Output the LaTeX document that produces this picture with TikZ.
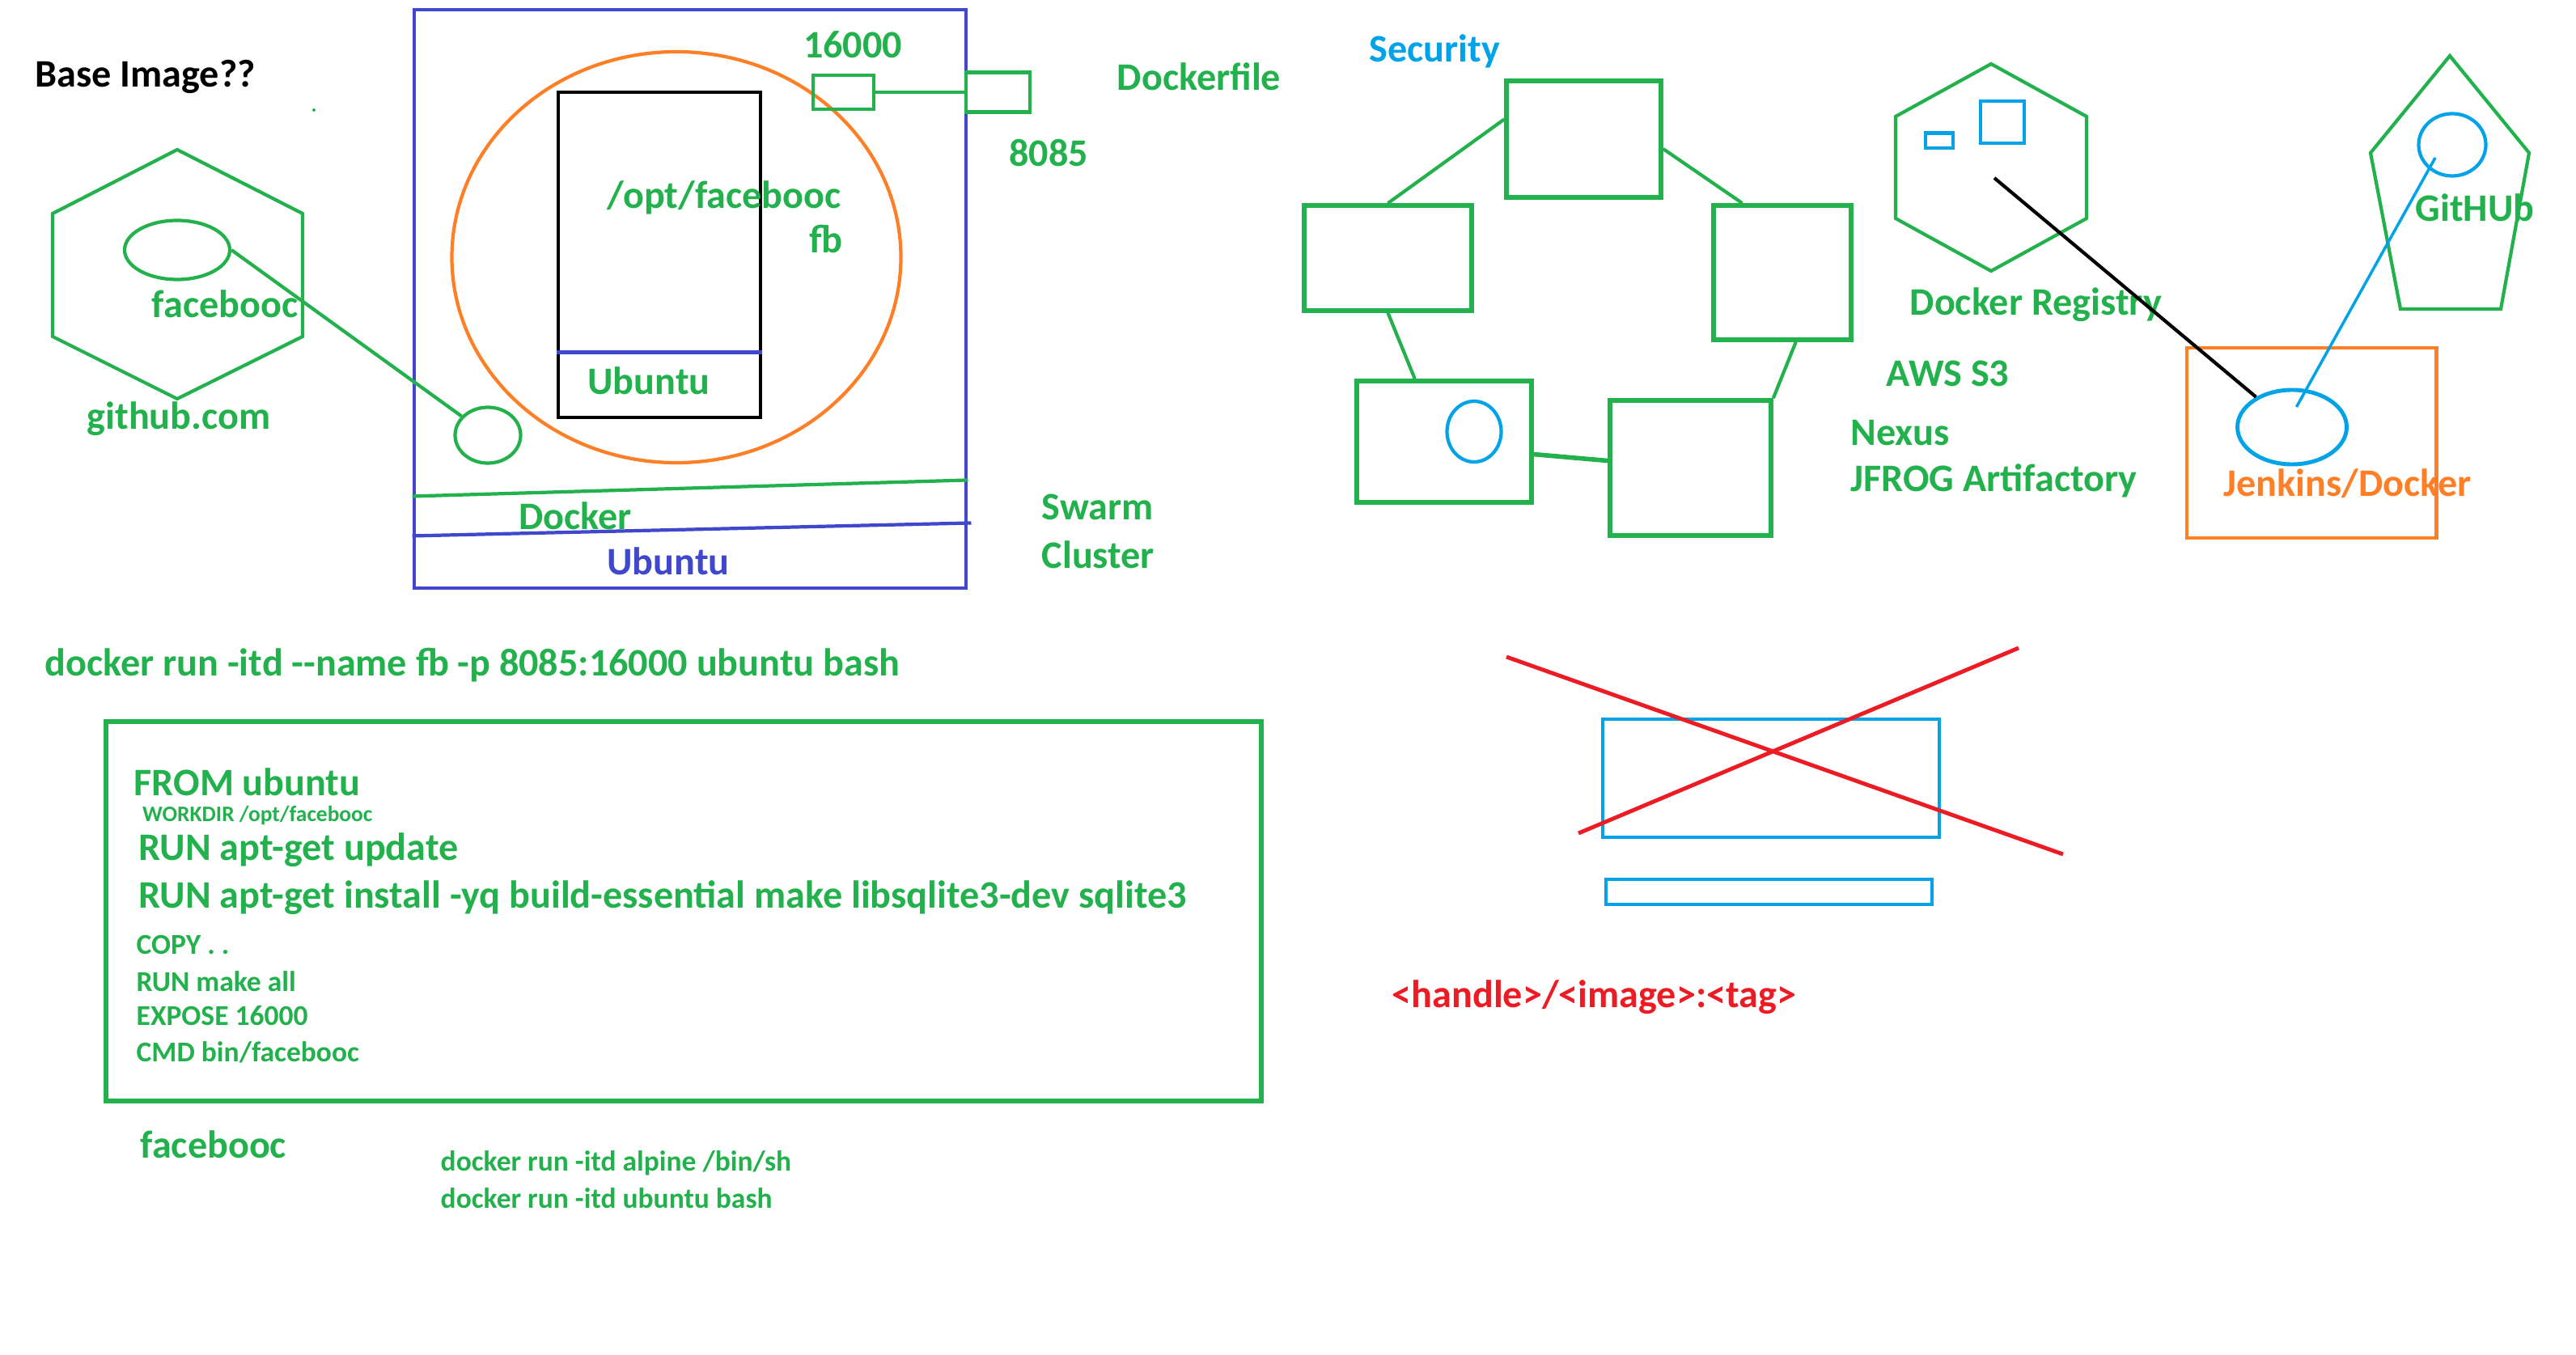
\documentclass[tikz,border=0pt]{standalone}
\usepackage{fontspec}
\setmainfont{Carlito}
\usepackage{xcolor}
\usepackage{tikz}
\usetikzlibrary{calc}
\usetikzlibrary{shapes}
\usetikzlibrary{positioning}
\usetikzlibrary{shapes.geometric}

\definecolor{pgreen}{HTML}{22B14C}
\definecolor{pblue}{HTML}{3F48CC}
\definecolor{porange}{HTML}{FF7F27}
\definecolor{plight}{HTML}{00A2E8}
\definecolor{pred}{HTML}{ED1C24}

\begin{document}
\begin{tikzpicture}[y=-1cm,
  txt/.style={inner sep=0, anchor=west, text=pgreen, font=\bfseries\fontsize{13.7}{16}\selectfont},
  smalltxt/.style={txt, font=\bfseries\fontsize{10.1}{12}\selectfont},
  tinytxt/.style={txt, font=\bfseries\fontsize{7.8}{9}\selectfont},
  box/.style={rectangle, draw=pgreen, line width=1.5pt, inner sep=0},
  oval/.style={ellipse, draw=pgreen, line width=1.2pt, inner sep=0},
  wire/.style={draw=pgreen, line width=1.2pt}]
\useasboundingbox (0,0) rectangle (31.84,16.75);

\node [txt, text=black] (base) at (0.43,0.95) {Base Image??};
\fill [pgreen] (3.88,1.36) circle (0.02);

\draw [wire] (2.19,1.85) -- (3.74,2.64) -- (3.74,4.16) -- (2.19,4.93) -- (0.65,4.16) -- (0.65,2.64) -- cycle;
\node [oval, minimum width=1.30cm, minimum height=0.73cm] (img) at (2.19,3.09) {};
\node [txt, anchor=center] (imgname) at (2.78,3.76) {facebooc};
\node [txt, anchor=center] (hub) at (2.21,5.18) {github.com};

\node [rectangle, draw=pblue, line width=1.4pt, minimum width=6.82cm, minimum height=7.15cm] (host) at (8.53,3.695) {};
\node [ellipse, draw=porange, line width=1.2pt, minimum width=5.55cm, minimum height=5.08cm] (cont) at (8.36,3.18) {};
\node [rectangle, draw=black, line width=1.4pt, minimum width=2.50cm, minimum height=4.02cm] (fs) at (8.15,3.15) {};
\draw [draw=pblue, line width=1.2pt] ($(fs.south west)+(0,-0.83)$) to ($(fs.south east)+(0,-0.83)$);
\node [txt, anchor=center] (fsos) at (8.02,4.71) {Ubuntu};
\node [txt, anchor=center] (dir) at (8.95,2.44) {/opt/facebooc};
\node [txt, anchor=center] (fb) at (10.21,2.96) {fb};
\node [oval, minimum width=0.81cm, minimum height=0.69cm] (run) at (6.03,5.38) {};
\draw [wire] (img.east) to (run);

\node [box, line width=1.2pt, minimum width=0.75cm, minimum height=0.42cm] (p1) at (10.425,1.14) {};
\node [box, line width=1.2pt, minimum width=0.79cm, minimum height=0.49cm] (p2) at (12.335,1.14) {};
\draw [wire] (p1.east) to (p2.west);
\node [txt, anchor=center] (p1name) at (10.54,0.55) {16000};
\node [txt, anchor=center] (p2name) at (12.96,1.89) {8085};
\node [txt, anchor=center] (dfname) at (14.82,0.95) {Dockerfile};

\draw [wire] ($(host.south west)+(0,-1.16)$) to ($(host.south east)+(0,-1.36)$);
\draw [draw=pblue, line width=1.2pt] ($(host.south west)+(0,-0.67)$) to ($(host.south east)+(0.04,-0.83)$);
\node [txt, anchor=center] (engine) at (7.11,6.38) {Docker};
\node [txt, anchor=center, text=pblue] (hostos) at (8.26,6.94) {Ubuntu};
\node [txt] (swarm) at (12.87,6.27) {Swarm};
\node [txt] (cluster) at (12.87,6.86) {Cluster};

\node [txt] (cmd) at (0.55,8.22) {docker run -itd -{}-name fb -p 8085:16000 ubuntu bash};

\node [box, minimum width=14.28cm, minimum height=4.69cm] (df) at (8.45,11.265) {};
\node [txt] (l1) at (1.65,9.67) {FROM ubuntu};
\node [tinytxt] (l2) at (1.755,10.08) {WORKDIR /opt/facebooc};
\node [txt] (l3) at (1.71,10.51) {RUN apt-get update};
\node [txt] (l4) at (1.71,11.10) {RUN apt-get install -yq build-essential make libsqlite3-dev sqlite3};
\node [smalltxt] (l5) at (1.68,11.68) {COPY . .};
\node [smalltxt] (l6) at (1.68,12.13) {RUN make all};
\node [smalltxt] (l7) at (1.68,12.56) {EXPOSE 16000};
\node [smalltxt] (l8) at (1.68,13.01) {CMD bin/facebooc};
\node [txt] (tagname) at (1.73,14.15) {facebooc};
\node [smalltxt] (r1) at (5.44,14.38) {docker run -itd alpine /bin/sh};
\node [smalltxt] (r2) at (5.44,14.81) {docker run -itd ubuntu bash};

\node [txt, text=plight] (sec) at (16.92,0.63) {Security};
\node [box, line width=1.6pt, minimum width=1.91cm, minimum height=1.44cm] (n1) at (19.575,1.72) {};
\node [box, line width=1.6pt, minimum width=2.07cm, minimum height=1.30cm] (n2) at (17.155,3.19) {};
\node [box, line width=1.6pt, minimum width=1.70cm, minimum height=1.66cm] (n3) at (22.03,3.37) {};
\node [box, line width=1.6pt, minimum width=2.16cm, minimum height=1.50cm] (n4) at (17.85,5.46) {};
\node [box, line width=1.6pt, minimum width=1.99cm, minimum height=1.67cm] (n5) at (20.895,5.785) {};
\node [ellipse, draw=plight, line width=1.2pt, inner sep=0, minimum width=0.67cm, minimum height=0.75cm] (n4c) at (18.22,5.335) {};
\draw [wire] (n2.north) to (n1.166);
\draw [wire] (n1.-7) to (n3.120);
\draw [wire] (n2.south) to (n4.115);
\draw [wire] (n3.-79) to (n5.north east);
\draw [wire, line width=1.6pt] (n4.-8) to (n5.175);

\draw [wire] (24.61,0.79) -- (25.79,1.44) -- (25.79,2.70) -- (24.61,3.35) -- (23.43,2.70) -- (23.43,1.44) -- cycle;
\draw [draw=plight, line width=1.2pt] (23.80,1.645) rectangle (24.14,1.83);
\draw [draw=plight, line width=1.2pt] (24.48,1.25) rectangle (25.02,1.77);
\node [txt] (reg) at (23.60,3.77) {Docker Registry};
\node [txt] (s3) at (23.31,4.615) {AWS S3};
\node [txt] (nexus) at (22.87,5.35) {Nexus};
\node [txt] (jfrog) at (22.87,5.94) {JFROG Artifactory};

\draw [wire] (30.28,0.69) -- (31.26,1.89) -- (30.91,3.82) -- (29.67,3.82) -- (29.30,1.89) -- cycle;
\node [ellipse, draw=plight, line width=1.2pt, inner sep=0, minimum width=0.83cm, minimum height=0.77cm] (repo) at (30.31,1.79) {};
\node [txt] (git) at (29.85,2.57) {GitHUb};

\node [rectangle, draw=porange, line width=1.4pt, minimum width=3.08cm, minimum height=2.35cm] (ci) at (28.57,5.475) {};
\node [ellipse, draw=plight, line width=1.4pt, inner sep=0, minimum width=1.35cm, minimum height=0.92cm] (agent) at (28.33,5.28) {};
\node [txt, text=porange] (ciname) at (27.48,5.98) {Jenkins/Docker};
\coordinate (pull) at (24.65,2.20);
\coordinate (clone) at (30.10,1.95);
\coordinate (build) at (28.385,5.03);
\draw [draw=black, line width=1.2pt] (pull) to (agent);
\draw [draw=plight, line width=1pt] (clone) to (build);

\node [rectangle, draw=plight, line width=1.4pt, minimum width=4.16cm, minimum height=1.46cm] (tag) at (21.89,9.62) {};
\node [rectangle, draw=plight, line width=1.4pt, inner sep=0, minimum width=4.03cm, minimum height=0.31cm] (tagbar) at (21.865,11.025) {};
\draw [draw=pred, line width=1.4pt] (18.62,8.12) -- (25.50,10.56);
\draw [draw=pred, line width=1.4pt] (19.51,10.30) -- (24.95,8.01);
\node [txt, text=pred] (fmt) at (17.20,12.33) {<handle>/<image>:<tag>};
\end{tikzpicture}
\end{document}
